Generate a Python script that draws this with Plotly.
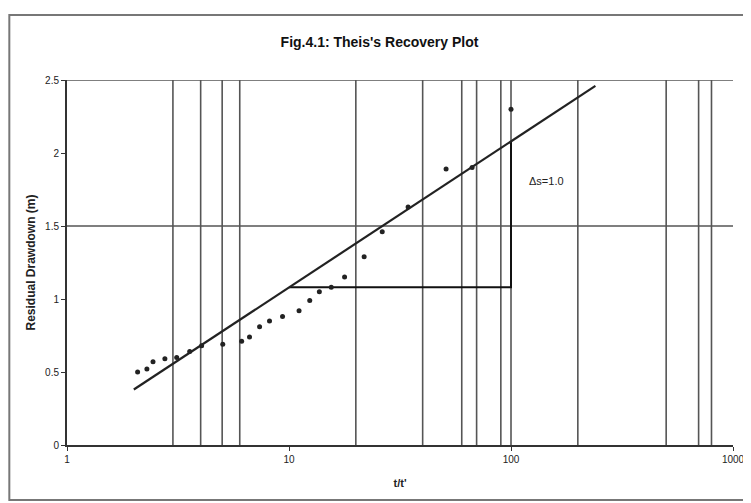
import plotly.graph_objects as go

# observed data (t/t', residual drawdown in m)
t_ratio = [2.08, 2.29, 2.44, 2.76, 3.12, 3.57, 4.04, 5.03, 6.12, 6.64, 7.37, 8.17,
           9.35, 11.1, 12.4, 13.7, 15.5, 17.8, 21.8, 26.3, 34.4, 51.0, 66.8, 100]
drawdown = [0.50, 0.52, 0.57, 0.59, 0.60, 0.64, 0.68, 0.69, 0.71, 0.74, 0.81, 0.85,
            0.88, 0.92, 0.99, 1.05, 1.08, 1.15, 1.29, 1.46, 1.63, 1.89, 1.90, 2.30]

# fitted straight line
fit_x = [2, 240]
fit_y = [0.38, 2.46]

# slope triangle over one log cycle
tri_x = [10, 100, 100]
tri_y = [1.08, 1.08, 2.08]
delta_label = "Δs=1.0"
delta_pos = (145, 1.81)

# visible gridlines
x_grid = [3, 4, 5, 6, 20, 40, 60, 70, 90, 100, 200, 500, 700, 800]
y_grid = [1.5, 2.5]

x_ticks = [1, 10, 100, 1000]
x_ticklabels = ["1", "10", "100", "1000"]
y_ticks = [0, 0.5, 1, 1.5, 2, 2.5]
y_ticklabels = ["0", "0.5", "1", "1.5", "2", "2.5"]

fig = go.Figure()

shapes = []
for xv in x_grid:
    shapes.append(dict(type="line", xref="x", yref="paper", x0=xv, x1=xv, y0=0, y1=1,
                       line=dict(color="#555555", width=1.6), layer="below"))
for yv in y_grid:
    shapes.append(dict(type="line", xref="paper", yref="y", x0=0, x1=1, y0=yv, y1=yv,
                       line=dict(color="#555555", width=1.6), layer="below"))
# outer chart border
shapes.append(dict(type="rect", xref="paper", yref="paper",
                   x0=-0.0866, x1=1.0225, y0=-0.151, y1=1.178,
                   line=dict(color="#777777", width=2)))

fig.add_trace(go.Scatter(x=tri_x, y=tri_y, mode="lines",
                         line=dict(color="#111111", width=2), showlegend=False))
fig.add_trace(go.Scatter(x=fit_x, y=fit_y, mode="lines",
                         line=dict(color="#222222", width=2.2), showlegend=False))
fig.add_trace(go.Scatter(x=t_ratio, y=drawdown, mode="markers",
                         marker=dict(color="#222222", size=5), showlegend=False))

fig.add_annotation(x=2.16, y=delta_pos[1], xref="x", yref="y", text=delta_label,
                   showarrow=False, font=dict(size=11, color="#222222"), xanchor="center")

fig.update_layout(
    width=743, height=495,
    margin=dict(l=59, r=18, t=72, b=58, autoexpand=False),
    paper_bgcolor="white", plot_bgcolor="white",
    title=dict(text="<b>Fig.4.1: Theis's Recovery Plot</b>", x=0.5, xanchor="center",
               y=0.931, yanchor="middle", font=dict(family="Arial, Liberation Sans", size=14, color="#111111")),
    font=dict(family="Arial, Liberation Sans", size=10, color="#222222"),
    shapes=shapes,
    xaxis=dict(type="log", range=[0, 3], tickvals=x_ticks, ticktext=x_ticklabels,
               automargin=False,
               showgrid=False, zeroline=False, showline=True, linecolor="#333333", linewidth=2,
               ticks="outside", ticklen=4, tickcolor="#333333",
               title=dict(text="<b>t/t'</b>", font=dict(size=11), standoff=15)),
    yaxis=dict(range=[0, 2.5], tickvals=y_ticks, ticktext=y_ticklabels,
               automargin=False,
               showgrid=False, zeroline=False, showline=True, linecolor="#333333", linewidth=2,
               ticks="outside", ticklen=4, tickcolor="#333333",
               title=dict(text="<b>Residual Drawdown (m)</b>", font=dict(size=12), standoff=7)),
)

fig.write_html("out.html")
